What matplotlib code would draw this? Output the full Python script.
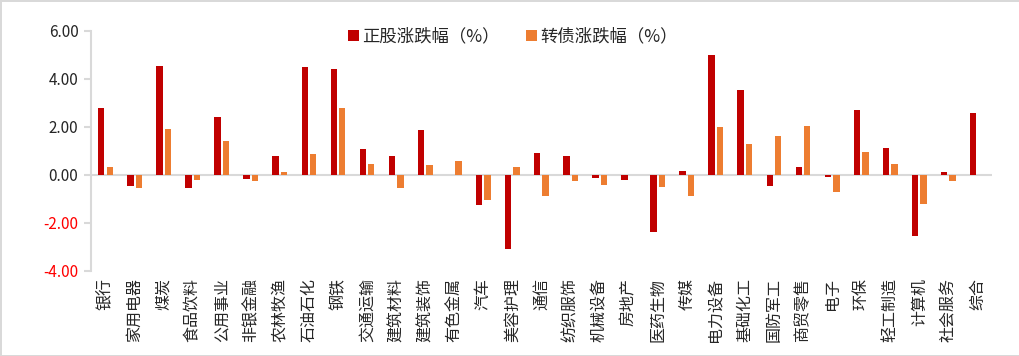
import numpy as np
import matplotlib
matplotlib.use("Agg")
import matplotlib.pyplot as plt

plt.rcParams['font.family'] = ['Noto Sans CJK SC', 'DejaVu Sans']

industries = ['银行', '家用电器', '煤炭', '食品饮料', '公用事业', '非银金融', '农林牧渔', '石油石化',
              '钢铁', '交通运输', '建筑材料', '建筑装饰', '有色金属', '汽车', '美容护理', '通信',
              '纺织服饰', '机械设备', '房地产', '医药生物', '传媒', '电力设备', '基础化工', '国防军工',
              '商贸零售', '电子', '环保', '轻工制造', '计算机', '社会服务', '综合']
# 正股涨跌幅（%）
stock_chg = [2.76, -0.49, 4.51, -0.57, 2.39, -0.19, 0.76, 4.47,
             4.39, 1.06, 0.76, 1.85, 0.0, -1.28, -3.11, 0.89,
             0.76, -0.15, -0.24, -2.40, 0.14, 4.97, 3.51, -0.49,
             0.31, -0.11, 2.68, 1.10, -2.57, 0.10, 2.56]
# 转债涨跌幅（%）
cb_chg = [0.31, -0.57, 1.89, -0.24, 1.39, -0.28, 0.10, 0.85,
          2.76, 0.43, -0.57, 0.39, 0.56, -1.07, 0.31, -0.90,
          -0.28, -0.44, 0.0, -0.53, -0.90, 1.97, 1.26, 1.60,
          2.01, -0.74, 0.93, 0.43, -1.24, -0.28, 0.0]
yticks = [-4, -2, 0, 2, 4, 6]

red = '#C00000'
orange = '#ED7D31'
grey = '#D9D9D9'

fig = plt.figure(figsize=(10.2, 3.56), dpi=100)
fig.patch.set_edgecolor(grey)
fig.patch.set_linewidth(2)
ax = fig.add_axes([0.0892, 0.2396, 0.8833, 0.6742])

x = np.arange(len(industries))
w = 0.22
ax.bar(x - 0.145, stock_chg, w, color=red, label='正股涨跌幅（%）', zorder=3)
ax.bar(x + 0.145, cb_chg, w, color=orange, label='转债涨跌幅（%）', zorder=3)
ax.axhline(0, color=grey, lw=1.5, zorder=2)

ax.set_xlim(-0.5, len(industries) - 0.5)
ax.set_ylim(-4, 6)
ax.set_yticks(yticks)
ax.set_yticklabels(['%.2f' % v for v in yticks], fontsize=11)
for lab, v in zip(ax.get_yticklabels(), yticks):
    lab.set_color('#FF0000' if v < 0 else '#262626')

ax.set_xticks(x)
ax.set_xticklabels(industries, rotation=90, fontsize=11.5, color='#262626')
ax.tick_params(axis='x', length=0, pad=5)
ax.tick_params(axis='y', length=5, color=grey, width=1.5, pad=4)

for s in ['top', 'right', 'bottom']:
    ax.spines[s].set_visible(False)
ax.spines['left'].set_color(grey)
ax.spines['left'].set_linewidth(1.5)

fig.legend(loc='center', bbox_to_anchor=(0.503, 0.898), ncol=2, frameon=False,
           fontsize=12.5, handlelength=0.63, handleheight=0.63, handletextpad=0.2,
           columnspacing=1.5, labelcolor='#262626')

fig.savefig('out.png', dpi=100)
